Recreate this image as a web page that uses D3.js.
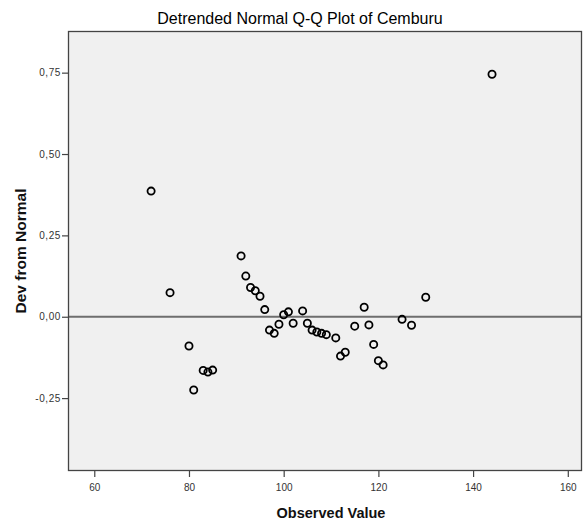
<!DOCTYPE html>
<html>
<head>
<meta charset="utf-8">
<script src="https://cdn.jsdelivr.net/npm/d3@7"></script>
<style>
  html, body { margin: 0; padding: 0; background: #fff; }
  svg { display: block; }
</style>
</head>
<body>
<script>
// Data
const observed = [72, 76, 80, 81, 83, 84, 85, 91, 92, 93, 94, 95, 96, 97, 98, 99, 100, 101, 102, 104, 105, 106, 107, 108, 109, 111, 112, 113, 115, 117, 118, 119, 120, 121, 125, 127, 130, 144];
const devFromNormal = [0.386, 0.074, -0.090, -0.225, -0.165, -0.170, -0.164, 0.187, 0.125, 0.090, 0.080, 0.063, 0.022, -0.041, -0.051, -0.023, 0.006, 0.015, -0.020, 0.018, -0.020, -0.041, -0.047, -0.051, -0.055, -0.065, -0.121, -0.109, -0.029, 0.029, -0.025, -0.085, -0.135, -0.148, -0.008, -0.026, 0.060, 0.745];
const xTicks = [60, 80, 100, 120, 140, 160];
const yTicks = [-0.25, 0, 0.25, 0.5, 0.75];
const titleText = "Detrended Normal Q-Q Plot of Cemburu";
const xTitle = "Observed Value";
const yTitle = "Dev from Normal";

(function () {
const W = 583, H = 527;
const pL = 68, pR = 582, pT = 31, pB = 471;
const FONT = "'Liberation Sans', Arial, sans-serif";

const svg = d3.select("body").append("svg").attr("width", W).attr("height", H);

const x = d3.scaleLinear().domain([54.45, 163]).range([pL, pR]);
const y = d3.scaleLinear().domain([-0.474, 0.878]).range([pB, pT]);

// plot background
svg.append("rect")
  .attr("x", pL).attr("y", pT)
  .attr("width", pR - pL).attr("height", pB - pT)
  .attr("fill", "#f0f0f0");

// zero reference line
svg.append("line")
  .attr("x1", pL).attr("x2", pR)
  .attr("y1", y(0)).attr("y2", y(0))
  .attr("stroke", "#6e6e6e").attr("stroke-width", 2);

// points
svg.append("g").selectAll("circle")
  .data(observed.map((v, i) => [v, devFromNormal[i]]))
  .join("circle")
  .attr("cx", d => x(d[0]))
  .attr("cy", d => y(d[1]))
  .attr("r", 3.6)
  .attr("fill", "none")
  .attr("stroke", "#000")
  .attr("stroke-width", 1.8);

// frame
svg.append("rect")
  .attr("x", pL + 0.5).attr("y", pT + 0.5)
  .attr("width", pR - pL - 1).attr("height", pB - pT - 1)
  .attr("fill", "none")
  .attr("stroke", "#444").attr("stroke-width", 1.3);

const fmt = d => d3.format(".2f")(d).replace(".", ",").replace("\u2212", "-");

// x axis
const xAxis = svg.append("g")
  .attr("transform", `translate(0,${pB})`)
  .call(d3.axisBottom(x).tickValues(xTicks).tickSize(6).tickPadding(7).tickFormat(d3.format("d")));
xAxis.select(".domain").remove();
xAxis.selectAll("line").attr("stroke", "#444").attr("stroke-width", 1.2);
xAxis.selectAll("text").attr("fill", "#333").style("font-family", FONT).style("font-size", "10px");

// y axis
const yAxis = svg.append("g")
  .attr("transform", `translate(${pL},0)`)
  .call(d3.axisLeft(y).tickValues(yTicks).tickSize(6).tickPadding(1).tickFormat(fmt));
yAxis.select(".domain").remove();
yAxis.selectAll("line").attr("stroke", "#444").attr("stroke-width", 1.2);
yAxis.selectAll("text").attr("fill", "#333").style("font-family", FONT).style("font-size", "10px").style("letter-spacing", "0.6px");

// title
svg.append("text")
  .attr("x", 300).attr("y", 24)
  .attr("text-anchor", "middle")
  .style("font-family", FONT)
  .style("font-size", "16px")
  .attr("fill", "#000")
  .text(titleText);

// x title
svg.append("text")
  .attr("x", 331).attr("y", 518)
  .attr("text-anchor", "middle")
  .style("font-family", FONT)
  .style("font-size", "14.5px").style("font-weight", "bold")
  .attr("fill", "#111")
  .text(xTitle);

// y title
svg.append("text")
  .attr("transform", "translate(26,251) rotate(-90)")
  .attr("text-anchor", "middle")
  .style("font-family", FONT)
  .style("font-size", "15.5px").style("font-weight", "bold")
  .attr("fill", "#111")
  .text(yTitle);
})();
</script>
</body>
</html>
